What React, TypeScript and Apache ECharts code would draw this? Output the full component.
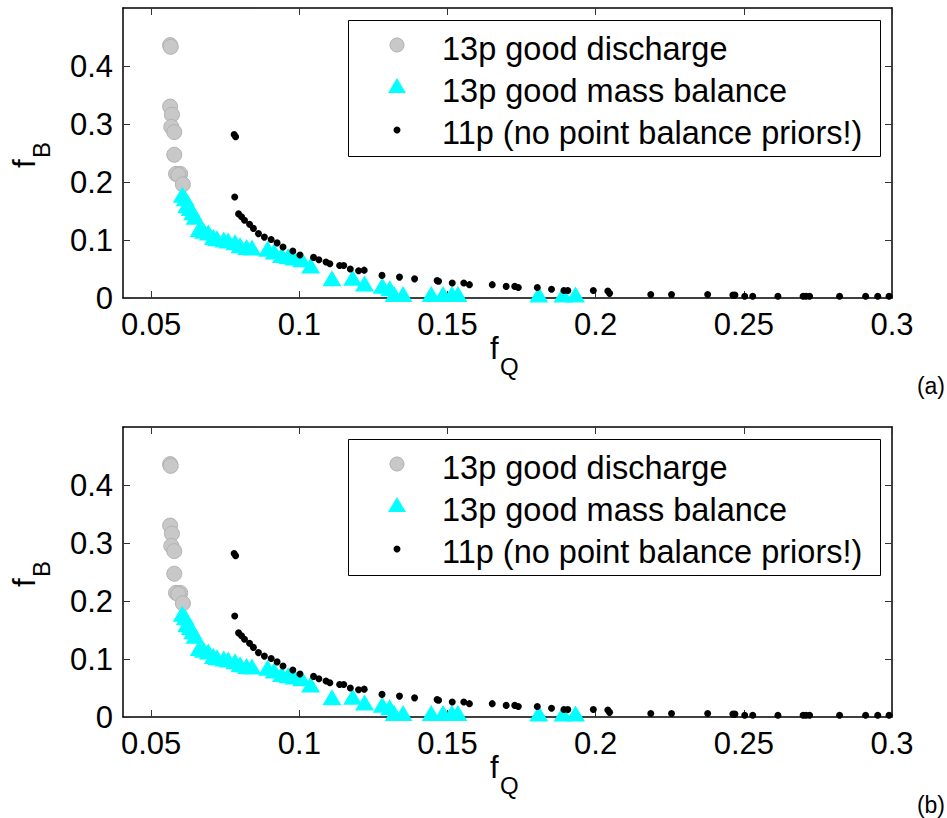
import React, { useEffect, useRef } from "react";
import * as echarts from "echarts";

// ---- data ----
const dischargeX = [0.0564, 0.0566, 0.0564, 0.0570, 0.0568, 0.0578, 0.0578, 0.0584, 0.0598, 0.0592, 0.0607];
const dischargeY = [0.436, 0.433, 0.330, 0.316, 0.295, 0.286, 0.247, 0.214, 0.214, 0.212, 0.196];

const massX = [0.0605, 0.0615, 0.0620, 0.0632, 0.0640, 0.0648, 0.0662, 0.0677, 0.0693, 0.0710, 0.0722, 0.0745, 0.0760,
  0.0783, 0.0800, 0.0822, 0.0840, 0.0893, 0.0915, 0.0940, 0.0962, 0.0982, 0.1008, 0.1038, 0.1110, 0.1180, 0.1220,
  0.1280, 0.1305, 0.1320, 0.1350, 0.1445, 0.1485, 0.1515, 0.1535, 0.1808, 0.1890, 0.1932];
const massY = [0.178, 0.172, 0.160, 0.155, 0.148, 0.140, 0.119, 0.116, 0.113, 0.105, 0.103, 0.101, 0.099,
  0.096, 0.091, 0.088, 0.087, 0.085, 0.080, 0.074, 0.072, 0.070, 0.067, 0.056, 0.034, 0.035, 0.025,
  0.021, 0.017, 0.007, 0.007, 0.007, 0.007, 0.007, 0.007, 0.006, 0.006, 0.006];

const p11X = [0.0780, 0.0785, 0.0782, 0.0795, 0.0805, 0.0815, 0.0832, 0.0845, 0.0862, 0.0882, 0.0905, 0.0925, 0.0945,
  0.0978, 0.1002, 0.1048, 0.1066, 0.1090, 0.1103, 0.1136, 0.1150, 0.1172, 0.1200, 0.1219, 0.1279, 0.1338, 0.1389,
  0.1465, 0.1470, 0.1516, 0.1555, 0.1574, 0.1651, 0.1698, 0.1727, 0.1739, 0.1803, 0.1851, 0.1893, 0.1906, 0.1992,
  0.2041, 0.2047, 0.2186, 0.2256, 0.2378, 0.2463, 0.2470, 0.2503, 0.2530, 0.2615, 0.2700, 0.2710, 0.2722, 0.2823,
  0.2911, 0.2952, 0.2990];
const p11Y = [0.282, 0.278, 0.174, 0.145, 0.140, 0.134, 0.127, 0.120, 0.111, 0.105, 0.101, 0.095, 0.088,
  0.081, 0.074, 0.070, 0.066, 0.062, 0.059, 0.056, 0.056, 0.050, 0.047, 0.048, 0.039, 0.036, 0.033,
  0.030, 0.029, 0.026, 0.026, 0.023, 0.023, 0.020, 0.020, 0.018, 0.018, 0.015, 0.013, 0.013, 0.013,
  0.012, 0.008, 0.006, 0.006, 0.006, 0.005, 0.005, 0.003, 0.003, 0.003, 0.003, 0.003, 0.003, 0.003,
  0.003, 0.003, 0.003];

const xTicks = [0.05, 0.1, 0.15, 0.2, 0.25, 0.3];
const yTicks = [0, 0.1, 0.2, 0.3, 0.4];
const seriesNames = ["13p good discharge", "13p good mass balance", "11p (no point balance priors!)"];
const panelLabels = ["(a)", "(b)"];

const FONT = "'Liberation Sans', Arial, Helvetica, sans-serif";

const pairs = (xs: number[], ys: number[]) => xs.map((x, i) => [x, ys[i]]);

export default function App() {
  const ref = useRef<HTMLDivElement>(null);

  useEffect(() => {
    document.body.style.margin = "0";
    if (!ref.current) return;
    const chart = echarts.init(ref.current, null, { renderer: "svg" });

    const gridTops = [8, 427];
    const gridH = 290;
    const left = 123;
    const gridW = 769;

    const xAxes: any[] = [];
    const yAxes: any[] = [];
    const grids: any[] = [];
    const series: any[] = [];
    const graphic: any[] = [];

    gridTops.forEach((top, p) => {
      grids.push({ left, top, width: gridW, height: gridH, containLabel: false });
      const lineStyle = { color: "#000", width: 1.5 };
      const tick = { show: true, inside: true, length: 7, lineStyle: { color: "#333", width: 1 }, customValues: xTicks };
      xAxes.push({
        type: "value", gridIndex: p, position: "bottom", min: 0.0405, max: 0.3,
        axisLine: { show: true, onZero: false, lineStyle },
        axisTick: tick,
        axisLabel: { show: true, customValues: xTicks, fontSize: 31, fontFamily: FONT, color: "#000", margin: 11 },
        splitLine: { show: false },
      });
      xAxes.push({
        type: "value", gridIndex: p, position: "top", min: 0.0405, max: 0.3,
        axisLine: { show: true, onZero: false, lineStyle },
        axisTick: tick,
        axisLabel: { show: false },
        splitLine: { show: false },
      });
      const ytick = { show: true, inside: true, length: 7, lineStyle: { color: "#333", width: 1 }, customValues: yTicks };
      yAxes.push({
        type: "value", gridIndex: p, position: "left", min: 0, max: 0.5,
        axisLine: { show: true, onZero: false, lineStyle },
        axisTick: ytick,
        axisLabel: { show: true, customValues: yTicks, fontSize: 31, fontFamily: FONT, color: "#000", margin: 10 },
        splitLine: { show: false },
      });
      yAxes.push({
        type: "value", gridIndex: p, position: "right", min: 0, max: 0.5,
        axisLine: { show: true, onZero: false, lineStyle },
        axisTick: ytick,
        axisLabel: { show: false },
        splitLine: { show: false },
      });

      const xi = p * 2;
      const yi = p * 2;
      series.push({
        name: seriesNames[0], type: "scatter", xAxisIndex: xi, yAxisIndex: yi,
        data: pairs(dischargeX, dischargeY), symbol: "circle", symbolSize: 15,
        itemStyle: { color: "#c8c8c8", borderColor: "#b2b2b2", borderWidth: 1, opacity: 1 }, z: 2,
      });
      series.push({
        name: seriesNames[1], type: "scatter", xAxisIndex: xi, yAxisIndex: yi,
        data: pairs(massX, massY), symbol: "triangle", symbolSize: [19, 16],
        itemStyle: { color: "#00ffff", opacity: 1 }, z: 3,
      });
      series.push({
        name: seriesNames[2], type: "scatter", xAxisIndex: xi, yAxisIndex: yi,
        data: pairs(p11X, p11Y), symbol: "circle", symbolSize: 7,
        itemStyle: { color: "#000", opacity: 1 }, z: 4,
      });

      const dy = top - 8;
      // legend box
      graphic.push(
        { type: "rect", z: 100, shape: { x: 348.5, y: 20.5 + dy, width: 532, height: 136 }, style: { fill: "#fff", stroke: "#000", lineWidth: 1 } },
        { type: "circle", z: 101, shape: { cx: 397, cy: 45 + dy, r: 7 }, style: { fill: "#c8c8c8", stroke: "#b2b2b2", lineWidth: 1 } },
        { type: "polygon", z: 101, shape: { points: [[388, 93 + dy], [406, 93 + dy], [397, 78 + dy]] }, style: { fill: "#00ffff" } },
        { type: "circle", z: 101, shape: { cx: 397, cy: 130 + dy, r: 3.5 }, style: { fill: "#000" } },
      );
      const rowsY = [48.5, 91, 132.5];
      seriesNames.forEach((n, i) => {
        graphic.push({
          type: "text", z: 101, x: 442, y: rowsY[i] + dy,
          style: { text: n, fontSize: 32.5, fontFamily: FONT, fill: "#000", align: "left", verticalAlign: "middle" },
        });
      });
      // x axis title f_Q
      graphic.push(
        { type: "text", z: 101, x: 490, y: 348 + dy, style: { text: "f", fontSize: 31, fontFamily: FONT, fill: "#000", align: "left", verticalAlign: "middle" } },
        { type: "text", z: 101, x: 500, y: 366 + dy, style: { text: "Q", fontSize: 24, fontFamily: FONT, fill: "#000", align: "left", verticalAlign: "middle" } },
      );
      // y axis title f_B (rotated)
      graphic.push({
        type: "group", x: 24, y: 168 + dy, rotation: Math.PI / 2,
        children: [
          { type: "text", z: 101, x: 0, y: 0, style: { text: "f", fontSize: 31, fontFamily: FONT, fill: "#000", align: "left", verticalAlign: "middle" } },
          { type: "text", z: 101, x: 10, y: 17, style: { text: "B", fontSize: 24, fontFamily: FONT, fill: "#000", align: "left", verticalAlign: "middle" } },
        ],
      });
      // panel label
      graphic.push({
        type: "text", z: 101, x: 945, y: 386 + dy,
        style: { text: panelLabels[p], fontSize: 23, fontFamily: FONT, fill: "#000", align: "right", verticalAlign: "middle" },
      });
    });

    chart.setOption({
      animation: false,
      backgroundColor: "#fff",
      grid: grids,
      xAxis: xAxes,
      yAxis: yAxes,
      series,
      graphic,
    });

    return () => chart.dispose();
  }, []);

  return <div ref={ref} style={{ width: 947, height: 818 }} />;
}
